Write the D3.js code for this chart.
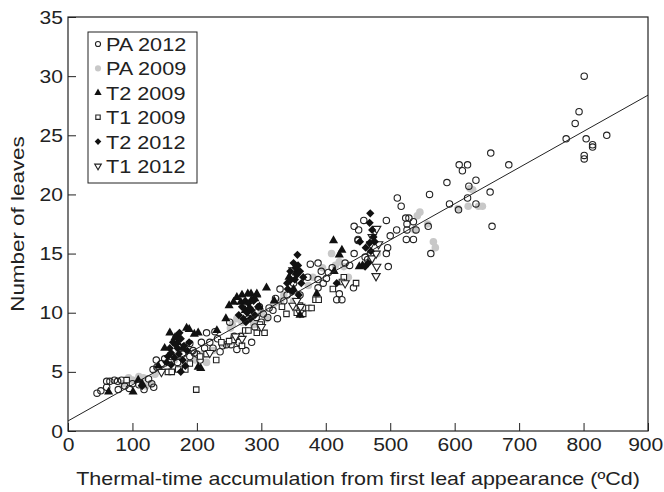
<!DOCTYPE html>
<html>
<head>
<meta charset="utf-8">
<script src="https://cdn.jsdelivr.net/npm/d3@7"></script>
<style>
  body { margin: 0; background: #fff; }
  svg text { font-family: "Liberation Sans", Arial, Helvetica, sans-serif; fill: #222; }
</style>
</head>
<body>
<svg id="chart" width="664" height="492"></svg>
<script>
// series: [thermal time (ºCd), number of leaves]
var pa2012 = [[45,3.2],[51,3.4],[60,3.7],[60,4.2],[65,4.2],[72,4.3],[77,4.2],[83,4.3],[88,3.8],[95,3.6],[100,4.0],[78,3.5],
  [110,3.9],[118,3.5],[125,4.4],[130,4.0],[133,3.7],[132,5.2],[138,5.4],[137,6.0],[145,5.7],[150,6.1],[160,6.3],[170,5.8],
  [178,6.5],[189,6.3],[194,6.8],[189,7.4],[196,6.6],[200,6.5],[207,7.5],[215,8.3],[220,7.5],[225,7.0],[232,7.8],[240,7.2],
  [246,7.3],[251,9.2],[253,7.3],[258,8.0],[262,6.9],[276,6.8],[268,8.0],[285,7.5],[290,8.8],[300,9.2],[303,9.9],[297,10.5],
  [310,9.6],[318,10.2],[325,9.5],[329,12.0],[335,11.0],[340,11.5],[376,14.1],[388,14.2],[393,13.5],[401,12.9],[388,12.8],
  [388,12.1],[372,13.0],[360,11.5],[350,12.5],[404,13.4],[421,11.6],[417,11.1],[425,11.1],[443,12.1],[450,16.1],[444,15.0],
  [444,17.3],[451,17.0],[459,17.8],[450,16.2],[461,14.7],[470,15.0],[465,14.5],[430,14.2],[437,14.0],[494,17.8],[510,17.0],
  [511,19.7],[517,19.0],[524,18.0],[529,18.0],[526,17.5],[536,17.7],[526,17.0],[525,16.2],[536,16.2],[559,17.3],[563,15.0],
  [497,13.9],[496,15.5],[494,15.0],[561,20.0],[588,21.0],[607,22.5],[620,22.5],[612,22.0],[633,21.2],[622,20.7],[655,20.2],
  [656,23.5],[684,22.5],[592,19.2],[620,19.7],[606,18.7],[633,19.2],[658,17.3],[773,24.7],[787,26.0],[793,27.0],[801,30.0],
  [804,24.7],[814,24.2],[814,24.0],[836,25.0],[801,23.3],[801,23.0],[205,6.0],[212,7.0],[228,8.4],[236,6.7],[265,7.5],
  [280,9.5],[292,9.6],[312,10.4],[322,11.2],[396,12.5],[410,13.8],[540,17.0],[500,16.5]];
var pa2009 = [[94,4.5],[85,4.0],[100,4.3],[117,4.5],[121,3.8],[128,4.0],[135,4.8],[145,5.2],[165,6.0],[172,6.8],[180,5.5],
  [198,6.0],[210,6.5],[215,5.8],[225,6.8],[240,7.4],[252,8.7],[262,9.5],[270,9.2],[288,9.0],[300,10.0],[308,9.5],[320,10.8],
  [335,11.5],[350,11.0],[373,12.3],[380,13.0],[395,13.8],[409,15.0],[421,14.3],[428,13.9],[415,14.0],[435,13.0],[470,14.5],
  [480,15.0],[546,18.5],[542,18.2],[558,17.5],[538,17.0],[567,16.0],[570,15.5],[624,20.5],[628,20.4],[621,19.0],[637,19.0],
  [643,19.0],[605,18.8],[110,4.6],[255,9.0],[330,11.0]];
var t2009a = [[63,3.3],[101,3.3],[109,4.3],[115,4.0],[140,5.5],[158,8.3],[170,7.5],[184,8.7],[188,8.6],[196,8.2],[202,8.3],
  [202,5.4],[206,5.3],[231,8.5],[245,9.5],[250,10.6],[257,10.9],[262,11.3],[270,11.5],[279,11.6],[284,11.6],[290,11.2],
  [293,11.6],[297,10.5],[308,12.1],[285,11.1],[293,11.5],[343,13.0],[350,12.0],[355,13.5],[386,11.6],[360,9.8],[412,16.1],
  [425,15.3],[421,14.9],[413,13.5],[452,13.9],[457,14.0],[320,11.0],[275,10.2],[178,7.0],[150,7.0],[166,7.9],[268,10.9]];
var t1009 = [[91,4.3],[155,5.0],[161,5.0],[171,5.2],[182,5.2],[199,3.5],[189,5.7],[205,6.3],[215,6.5],[238,7.5],[257,7.7],
  [275,8.5],[280,8.5],[293,8.3],[298,9.0],[305,8.3],[270,7.2],[332,10.5],[339,9.9],[360,10.6],[365,9.9],[373,10.4],[378,10.4],
  [384,11.1],[389,11.1],[411,12.0],[428,13.0],[447,12.5],[425,12.6],[355,10.0],[230,6.0],[250,7.6]];
var t2012a = [[115,3.8],[153,5.8],[158,7.0],[160,6.6],[163,7.5],[165,6.2],[168,8.0],[170,7.0],[172,6.5],[175,7.8],[178,6.0],
  [180,7.2],[182,5.5],[185,6.8],[188,7.5],[175,5.0],[160,5.6],[265,9.8],[270,10.5],[272,9.5],[275,11.0],[278,10.0],[280,10.8],
  [283,9.5],[285,10.2],[288,11.0],[290,9.8],[295,10.5],[340,12.5],[341,12.0],[345,13.5],[348,11.8],[350,14.2],[352,12.8],
  [355,13.2],[356,14.9],[357,14.0],[360,13.5],[362,12.5],[365,13.0],[358,11.5],[417,12.5],[453,16.0],[462,15.5],[466,14.2],
  [461,13.9],[468,17.6],[469,18.4],[472,17.0],[474,16.4],[476,16.0],[468,15.9],[470,15.2],[167,7.3],[173,8.3],[155,6.3],
  [276,9.2],[282,10.4],[346,12.8],[353,13.8]];
var t1012 = [[145,5.0],[220,6.6],[270,7.8],[260,8.0],[300,8.8],[349,10.6],[361,10.5],[349,13.6],[355,11.0],[430,12.5],
  [472,14.6],[478,15.0],[479,13.9],[478,13.1],[479,17.1],[472,16.4],[482,15.8],[470,15.8],[360,10.0]];

var legendLabels = ['PA 2012', 'PA 2009', 'T2 2009', 'T1 2009', 'T2 2012', 'T1 2012'];
var xTicks = [0, 100, 200, 300, 400, 500, 600, 700, 800, 900];
var yTicks = [0, 5, 10, 15, 20, 25, 30, 35];
var fitIntercept = 0.85, fitSlope = 0.0306;

var svg = d3.select('#chart'),
  margin = {top: 17, right: 16, bottom: 61, left: 68},
  width = +svg.attr('width') - margin.left - margin.right,
  height = +svg.attr('height') - margin.top - margin.bottom;

var stretch = 1.11; // the original lettering is a little wide

var x = d3.scaleLinear().domain([0, 900]).range([0, width]),
  y = d3.scaleLinear().domain([0, 35]).range([height, 0]);

var g = svg.append('g')
  .attr('transform', 'translate(' + margin.left + ',' + margin.top + ')');

// marker styles per series
var styles = {
  'PA 2012': {type: 'circle', fill: 'none', stroke: '#222', r: 3.2},
  'PA 2009': {type: 'circle', fill: '#c8c8c8', stroke: 'none', r: 3.8},
  'T2 2009': {type: d3.symbolTriangle, size: 36, fill: '#111', stroke: 'none'},
  'T1 2009': {type: d3.symbolSquare, size: 30, fill: '#fff', stroke: '#222'},
  'T2 2012': {type: d3.symbolSquare, size: 34, fill: '#111', stroke: 'none', rot: 45},
  'T1 2012': {type: d3.symbolTriangle, size: 30, fill: '#fff', stroke: '#222', rot: 180}
};

function drawMarker(sel, s, k) {
  k = k || 1;
  if (s.type === 'circle') {
    sel.append('circle').attr('r', s.r * k)
      .attr('fill', s.fill).attr('stroke', s.stroke).attr('stroke-width', 1.1);
  } else {
    sel.append('path').attr('d', d3.symbol().type(s.type).size(s.size * k * k)())
      .attr('transform', s.rot ? 'rotate(' + s.rot + ')' : null)
      .attr('fill', s.fill).attr('stroke', s.stroke).attr('stroke-width', 1.1);
  }
}

var series = [
  ['PA 2009', pa2009], ['PA 2012', pa2012], ['T1 2009', t1009],
  ['T1 2012', t1012], ['T2 2009', t2009a], ['T2 2012', t2012a]
];

series.forEach(function(sr) {
  var s = styles[sr[0]];
  g.append('g').selectAll('g')
    .data(sr[1])
    .enter().append('g')
    .attr('transform', function(d) { return 'translate(' + x(d[0]) + ',' + y(d[1]) + ')'; })
    .each(function() { drawMarker(d3.select(this), s); });
});

// regression line
g.append('line')
  .attr('x1', x(0)).attr('y1', y(fitIntercept))
  .attr('x2', x(900)).attr('y2', y(fitIntercept + fitSlope * 900))
  .attr('stroke', '#222').attr('stroke-width', 1);

// axes with inward ticks
var xAxis = g.append('g')
  .attr('transform', 'translate(0,' + height + ')')
  .call(d3.axisBottom(x).tickValues(xTicks).tickSize(-8).tickPadding(7).tickFormat(d3.format('d')));
var yAxis = g.append('g')
  .call(d3.axisLeft(y).tickValues(yTicks).tickSize(-8).tickPadding(4.5));
[xAxis, yAxis].forEach(function(a) {
  a.select('.domain').remove();
  a.selectAll('line').attr('stroke', '#222');
  a.selectAll('text').attr('font-size', 19).attr('fill', '#222')
    .attr('transform', 'scale(' + stretch + ',1)');
});
// keep the last x label inside the page
xAxis.selectAll('text').filter(function(d) { return d === 900; }).attr('x', -2.5);

g.append('rect')
  .attr('width', width).attr('height', height)
  .attr('fill', 'none').attr('stroke', '#222').attr('stroke-width', 1.2);

svg.append('text')
  .attr('transform', 'translate(' + (margin.left + width / 2) + ',485) scale(1.13,1)')
  .attr('text-anchor', 'middle').attr('font-size', 19)
  .text('Thermal-time accumulation from first leaf appearance (ºCd)');

svg.append('text')
  .attr('transform', 'translate(24,' + (margin.top + height / 2) + ') rotate(-90) scale(1.18,1)')
  .attr('text-anchor', 'middle').attr('font-size', 19)
  .text('Number of leaves');

// legend
var legend = svg.append('g').attr('transform', 'translate(88,32)');
legend.append('rect').attr('width', 109).attr('height', 151)
  .attr('fill', '#fff').attr('stroke', '#222').attr('stroke-width', 1);
legendLabels.forEach(function(lab, i) {
  var row = legend.append('g').attr('transform', 'translate(10,' + (12 + i * 24.4) + ')');
  drawMarker(row, styles[lab], 0.8);
  row.append('text').attr('transform', 'translate(8,7) scale(1.14,1)')
    .attr('font-size', 19).text(lab);
});
</script>
</body>
</html>
